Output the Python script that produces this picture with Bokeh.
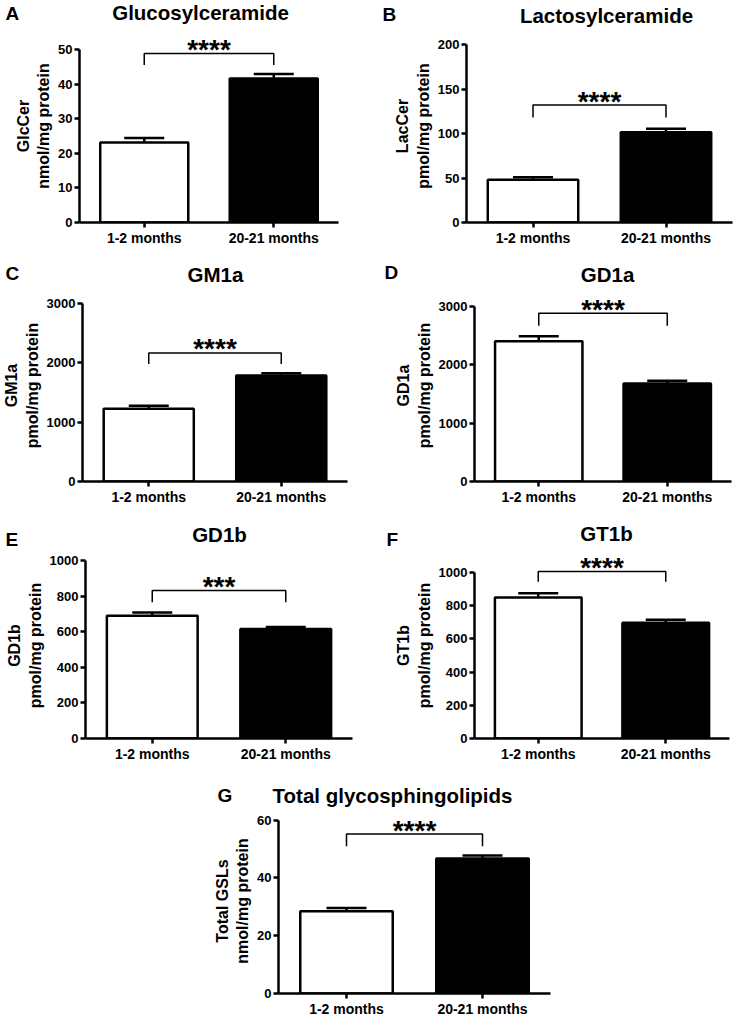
from bokeh.plotting import figure
from bokeh.models import ColumnDataSource, Whisker, TeeHead, Label, FixedTicker, Range1d, Spacer
from bokeh.layouts import column, row
from bokeh.embed import file_html
from bokeh.resources import INLINE
from bokeh.core.properties import value

# ---------------- data ----------------
categories = ["1-2 months", "20-21 months"]

glccer_mean = [23.1, 41.6]
glccer_sem = [1.3, 1.3]
glccer_ticks = [0, 10, 20, 30, 40, 50]
glccer_bracket = [48.8, 45.5]
glccer_stars = "****"

laccer_mean = [48.1, 101.5]
laccer_sem = [2.7, 3.8]
laccer_ticks = [0, 50, 100, 150, 200]
laccer_bracket = [132, 118]
laccer_stars = "****"

gm1a_mean = [1227, 1784]
gm1a_sem = [50, 39]
gm1a_ticks = [0, 1000, 2000, 3000]
gm1a_bracket = [2164, 1980]
gm1a_stars = "****"

gd1a_mean = [2406, 1680]
gd1a_sem = [85, 46]
gd1a_ticks = [0, 1000, 2000, 3000]
gd1a_bracket = [2886, 2669]
gd1a_stars = "****"

gd1b_mean = [690, 615]
gd1b_sem = [18, 11]
gd1b_ticks = [0, 200, 400, 600, 800, 1000]
gd1b_bracket = [832, 766]
gd1b_stars = "***"

gt1b_mean = [849, 697]
gt1b_sem = [25, 18]
gt1b_ticks = [0, 200, 400, 600, 800, 1000]
gt1b_bracket = [1006, 944]
gt1b_stars = "****"

total_mean = [28.5, 46.7]
total_sem = [1.1, 1.1]
total_ticks = [0, 20, 40, 60]
total_bracket = [55.2, 51.0]
total_stars = "****"

FONT = "Liberation Sans"
bar_fills = ["white", "black"]


def make_header(letter, title, g):
    w, hh = g["w"], g["hh"]
    head = figure(width=w, height=hh, x_range=Range1d(0, 1), y_range=Range1d(0, 1),
                  x_axis_type=None, y_axis_type=None, title=None,
                  output_backend="svg", toolbar_location=None,
                  min_border_left=0, min_border_right=0, min_border_top=0, min_border_bottom=0)
    head.outline_line_color = None
    head.background_fill_color = "white"
    head.border_fill_color = "white"
    head.add_layout(Label(x=g["tx"], y=hh - g["ty"], x_units="screen", y_units="screen",
                          text=title, text_align="center", text_baseline="middle",
                          text_font=FONT, text_font_style="bold", text_font_size="20.5px",
                          text_color="black"))
    head.add_layout(Label(x=g["lx"], y=hh - g["ly"], x_units="screen", y_units="screen",
                          text=letter, text_align="left", text_baseline="middle",
                          text_font=FONT, text_font_style="bold", text_font_size="19px",
                          text_color="black"))
    return head


def make_plot(ylabel, means, sems, ticks, bracket, stars, g):
    w, h, hh = g["w"], g["h"], g["hh"]
    ph = h - hh
    left, right = g["left"], g["right"]
    ttop, zero = g["top_tick"] - hh, g["zero"] - hh
    top = ticks[-1]
    y_end = top * zero / (zero - ttop)
    p = figure(width=w, height=ph, x_range=Range1d(0.5, 2.5), y_range=Range1d(0, y_end),
               title=None, output_backend="svg", toolbar_location=None,
               min_border_left=left, min_border_right=w - right,
               min_border_top=0, min_border_bottom=ph - zero)
    p.outline_line_color = None
    p.grid.visible = False
    p.background_fill_color = "white"
    p.border_fill_color = "white"

    xs = [i + 1 for i in range(len(categories))]
    src = ColumnDataSource(dict(x=xs, top=means,
                                upper=[m + s for m, s in zip(means, sems)],
                                fill=bar_fills))
    p.add_layout(Whisker(base="x", upper="upper", lower="top", source=src,
                         line_width=2.5, line_color="black",
                         upper_head=TeeHead(size=40, line_width=2.5, line_color="black"),
                         lower_head=None))
    p.vbar(x="x", top="top", bottom=0, width=0.68, fill_color="fill",
           line_color="black", line_width=2.5, source=src)

    # significance bracket
    p.line(x=[xs[0], xs[0], xs[1], xs[1]],
           y=[bracket[1], bracket[0], bracket[0], bracket[1]],
           line_color="black", line_width=1.5)
    p.text(x=[(xs[0] + xs[1]) / 2], y=[bracket[0]], text=[stars],
           text_align="center", text_baseline="middle", y_offset=-4,
           text_font=value(FONT), text_font_style="bold", text_font_size="28px",
           text_color="black")

    # axes
    p.xaxis.ticker = FixedTicker(ticks=xs)
    p.xaxis.major_label_overrides = {x: c for x, c in zip(xs, categories)}
    p.xaxis.axis_label = None
    p.yaxis.ticker = FixedTicker(ticks=ticks)
    p.yaxis.bounds = (0, top)
    p.yaxis.axis_label = ylabel
    for ax in p.axis:
        ax.axis_line_width = 2.5
        ax.axis_line_color = "black"
        ax.major_tick_line_width = 2.5
        ax.major_tick_line_color = "black"
        ax.major_tick_in = 0
        ax.major_tick_out = 5
        ax.minor_tick_in = 0
        ax.minor_tick_out = 0
        ax.major_label_text_font = FONT
        ax.major_label_text_font_style = "bold"
        ax.major_label_text_color = "black"
        ax.axis_label_text_font = FONT
        ax.axis_label_text_font_style = "bold"
        ax.axis_label_text_color = "black"
    p.xaxis.major_label_text_font_size = "14px"
    p.xaxis.major_label_standoff = 2
    p.xaxis.axis_label_standoff = 0
    p.yaxis.major_label_text_font_size = "13px"
    p.yaxis.major_label_standoff = 2
    p.yaxis.axis_label_text_font_size = "16px"
    p.yaxis.axis_label_standoff = 3
    p.yaxis.axis_label_text_align = "center"
    return p


geo = {
    "A": dict(w=369, h=255, hh=29, left=79, right=338, top_tick=49, zero=223, tx=200, ty=12, lx=5, ly=12.5),
    "B": dict(w=368, h=255, hh=29, left=97, right=363, top_tick=44, zero=222, tx=237, ty=15, lx=13, ly=14),
    "C": dict(w=369, h=255, hh=34, left=79, right=347, top_tick=48, zero=228, tx=215, ty=19, lx=5, ly=17.5),
    "D": dict(w=368, h=255, hh=34, left=105, right=362, top_tick=51, zero=226, tx=238, ty=19, lx=15, ly=17),
    "E": dict(w=369, h=260, hh=42, left=85, right=352, top_tick=50, zero=228, tx=219, ty=24, lx=5, ly=29),
    "F": dict(w=368, h=260, hh=42, left=105, right=360, top_tick=62, zero=229, tx=237, ty=23, lx=17, ly=29),
    "G": dict(w=369, h=249, hh=38, left=78, right=350, top_tick=50, zero=228, tx=192, ty=25, lx=17, ly=25),
}

hA = make_header("A", "Glucosylceramide", geo["A"])
pA = make_plot("GlcCer\nnmol/mg protein", glccer_mean, glccer_sem, glccer_ticks,
               glccer_bracket, glccer_stars, geo["A"])
hB = make_header("B", "Lactosylceramide", geo["B"])
pB = make_plot("LacCer\npmol/mg protein", laccer_mean, laccer_sem, laccer_ticks,
               laccer_bracket, laccer_stars, geo["B"])
hC = make_header("C", "GM1a", geo["C"])
pC = make_plot("GM1a\npmol/mg protein", gm1a_mean, gm1a_sem, gm1a_ticks,
               gm1a_bracket, gm1a_stars, geo["C"])
hD = make_header("D", "GD1a", geo["D"])
pD = make_plot("GD1a\npmol/mg protein", gd1a_mean, gd1a_sem, gd1a_ticks,
               gd1a_bracket, gd1a_stars, geo["D"])
hE = make_header("E", "GD1b", geo["E"])
pE = make_plot("GD1b\npmol/mg protein", gd1b_mean, gd1b_sem, gd1b_ticks,
               gd1b_bracket, gd1b_stars, geo["E"])
hF = make_header("F", "GT1b", geo["F"])
pF = make_plot("GT1b\npmol/mg protein", gt1b_mean, gt1b_sem, gt1b_ticks,
               gt1b_bracket, gt1b_stars, geo["F"])
hG = make_header("G", "Total glycosphingolipids", geo["G"])
pG = make_plot("Total GSLs\nnmol/mg protein", total_mean, total_sem, total_ticks,
               total_bracket, total_stars, geo["G"])

gG = geo["G"]
layout = column(
    row(hA, hB), row(pA, pB),
    row(hC, hD), row(pC, pD),
    row(hE, hF), row(pE, pF),
    row(Spacer(width=200, height=gG["hh"]), hG),
    row(Spacer(width=200, height=gG["h"] - gG["hh"]), pG),
)

open("out.html", "w").write(file_html(layout, INLINE))
